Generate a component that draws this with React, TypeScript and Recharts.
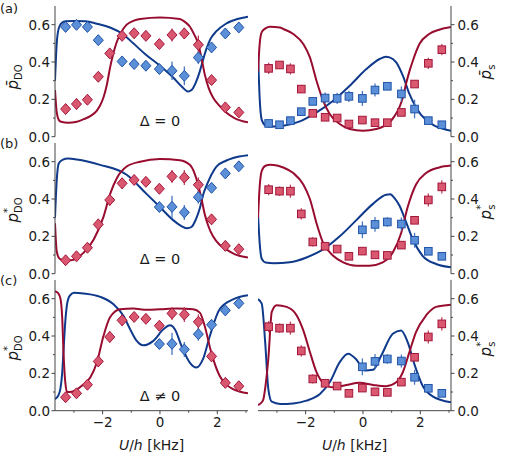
import { ComposedChart, ErrorBar, Line, Scatter, XAxis, YAxis } from 'recharts';

const FONT = '"DejaVu Sans", sans-serif';
const AXIS = '#444';
const INK = '#1a1a1a';
const RED_LINE = '#980c2f';
const BLUE_LINE = '#0f3a8c';
const RED_FILL = '#d9586f';
const RED_EDGE = '#a3173b';
const RED_ERR = '#c2415b';
const BLUE_FILL = '#5b8fd8';
const BLUE_EDGE = '#2153a6';
const BLUE_ERR = '#4a78c0';

// U/h values [kHz] of the measured points
const U = [-3.29, -2.91, -2.53, -2.15, -1.75, -1.32, -0.9, -0.49, -0.02, 0.42, 0.85, 1.34, 1.8, 2.28, 2.75];

// left column: doublon fraction
const doBarRed = [0.148, 0.175, 0.198, 0.321, 0.446, 0.54, 0.554, 0.54, 0.496, 0.545, 0.553, 0.492, 0.303, 0.157, 0.13];
const doBarRedErr = [0.012, 0.03, 0.015, 0.025, 0.02, 0.02, 0.015, 0.015, 0.02, 0.035, 0.03, 0.05, 0.02, 0.015, 0.015];
const doBarBlue = [0.588, 0.599, 0.588, 0.517, null, 0.403, 0.389, 0.38, 0.362, 0.353, 0.326, 0.424, 0.478, 0.553, 0.585];
const doBarBlueErr = [0.012, 0.012, 0.012, 0.015, 0, 0.025, 0.015, 0.015, 0.02, 0.05, 0.05, 0.035, 0.02, 0.015, 0.012];
const doStarRed = [0.072, 0.093, 0.139, 0.264, 0.395, 0.484, 0.502, 0.492, 0.455, 0.521, 0.515, 0.476, 0.291, 0.149, 0.131];
const doStarRedErr = [0.012, 0.025, 0.02, 0.03, 0.03, 0.03, 0.02, 0.02, 0.025, 0.035, 0.04, 0.04, 0.025, 0.02, 0.015];
const doStarBlue = [null, null, null, null, null, null, null, null, 0.357, 0.358, 0.328, 0.41, 0.46, 0.537, 0.575];
const doStarBlueErr = [0, 0, 0, 0, 0, 0, 0, 0, 0.02, 0.06, 0.04, 0.035, 0.02, 0.015, 0.015];

// right column: singlon fraction
const sBarRed = [0.366, 0.384, 0.363, 0.255, 0.125, 0.104, 0.1, 0.068, 0.089, 0.075, 0.075, 0.13, 0.282, 0.393, 0.466];
const sBarRedErr = [0.03, 0.02, 0.03, 0.02, 0.02, 0.02, 0.015, 0.015, 0.015, 0.015, 0.015, 0.015, 0.015, 0.03, 0.03];
const sBarBlue = [0.071, 0.064, 0.086, 0.134, 0.189, 0.207, 0.205, 0.216, 0.205, 0.25, 0.27, 0.229, 0.148, 0.086, 0.064];
const sBarBlueErr = [0.01, 0.01, 0.012, 0.015, 0.02, 0.03, 0.03, 0.03, 0.04, 0.035, 0.02, 0.04, 0.05, 0.015, 0.01];
const sStarRed = [0.45, 0.442, 0.442, 0.32, 0.17, 0.147, 0.132, 0.093, 0.121, 0.101, 0.098, 0.153, 0.286, 0.395, 0.465];
const sStarRedErr = [0.03, 0.025, 0.035, 0.03, 0.025, 0.02, 0.015, 0.015, 0.02, 0.015, 0.02, 0.02, 0.02, 0.035, 0.035];
const sStarBlue = [null, null, null, null, null, null, null, null, 0.235, 0.264, 0.277, 0.266, 0.179, 0.12, 0.093];
const sStarBlueErr = [0, 0, 0, 0, 0, 0, 0, 0, 0.045, 0.04, 0.025, 0.035, 0.04, 0.015, 0.012];

// theory curves [U/h, value]
const fitA_DO_blue = [[-3.66, 0.3], [-3.6, 0.5], [-3.53, 0.58], [-3.45, 0.605], [-3.3, 0.618], [-3.0, 0.62], [-2.6, 0.618], [-2.2, 0.605], [-1.74, 0.585], [-1.3, 0.55], [-0.93, 0.5], [-0.5, 0.44], [0, 0.38], [0.46, 0.317], [0.75, 0.27], [0.98, 0.242], [1.1, 0.25], [1.25, 0.29], [1.39, 0.35], [1.5, 0.41], [1.62, 0.47], [1.75, 0.52], [1.97, 0.565], [2.3, 0.605], [2.7, 0.63], [3.07, 0.643]];
const fitA_DO_red = [[-3.66, 0.25], [-3.6, 0.13], [-3.53, 0.09], [-3.45, 0.08], [-3.2, 0.075], [-2.9, 0.08], [-2.66, 0.094], [-2.43, 0.11], [-2.2, 0.14], [-2.08, 0.17], [-1.97, 0.21], [-1.85, 0.28], [-1.74, 0.37], [-1.62, 0.45], [-1.5, 0.51], [-1.33, 0.565], [-1.16, 0.6], [-0.93, 0.62], [-0.69, 0.63], [0, 0.638], [0.69, 0.63], [0.87, 0.615], [1.04, 0.59], [1.2, 0.545], [1.33, 0.5], [1.45, 0.42], [1.56, 0.335], [1.7, 0.26], [1.85, 0.21], [2.08, 0.165], [2.31, 0.13], [2.6, 0.1], [3.07, 0.077]];
const fitB_DO_blue = [[-3.66, 0.3], [-3.6, 0.5], [-3.53, 0.59], [-3.4, 0.61], [-3.2, 0.617], [-2.9, 0.612], [-2.09, 0.583], [-1.16, 0.53], [-0.46, 0.426], [0, 0.357], [0.46, 0.287], [0.75, 0.255], [0.95, 0.243], [1.1, 0.25], [1.25, 0.29], [1.39, 0.35], [1.5, 0.42], [1.62, 0.47], [1.97, 0.574], [2.3, 0.605], [2.55, 0.62], [3.07, 0.635]];
const fitB_DO_red = [[-3.66, 0.27], [-3.6, 0.12], [-3.5, 0.08], [-3.3, 0.07], [-3.1, 0.072], [-2.66, 0.113], [-2.31, 0.183], [-1.97, 0.304], [-1.74, 0.426], [-1.5, 0.513], [-1.16, 0.574], [-0.69, 0.6], [0, 0.614], [0.69, 0.608], [1.04, 0.583], [1.2, 0.54], [1.33, 0.478], [1.45, 0.4], [1.56, 0.32], [1.7, 0.25], [1.85, 0.2], [2.08, 0.155], [2.31, 0.13], [2.6, 0.105], [3.07, 0.087]];
const fitC_DO_blue = [[-3.66, 0.062], [-3.55, 0.08], [-3.47, 0.12], [-3.41, 0.2], [-3.36, 0.33], [-3.3, 0.48], [-3.24, 0.57], [-3.15, 0.615], [-3.0, 0.632], [-2.66, 0.628], [-2.08, 0.61], [-1.62, 0.57], [-1.27, 0.507], [-1.04, 0.436], [-0.81, 0.374], [-0.58, 0.35], [-0.23, 0.374], [0.12, 0.436], [0.35, 0.457], [0.52, 0.436], [0.75, 0.347], [1.04, 0.258], [1.27, 0.231], [1.5, 0.276], [1.74, 0.4], [2.08, 0.543], [2.55, 0.596], [3.07, 0.618]];
const fitC_DO_red = [[-3.66, 0.64], [-3.55, 0.63], [-3.47, 0.6], [-3.41, 0.5], [-3.36, 0.3], [-3.3, 0.15], [-3.24, 0.1], [-3.13, 0.1], [-2.66, 0.142], [-2.43, 0.178], [-2.2, 0.258], [-1.97, 0.4], [-1.74, 0.5], [-1.39, 0.543], [-0.93, 0.547], [-0.46, 0.54], [0, 0.543], [0.58, 0.547], [1.16, 0.543], [1.39, 0.525], [1.56, 0.454], [1.79, 0.311], [2.08, 0.187], [2.55, 0.116], [3.07, 0.094]];
const fitA_S_red = [[-3.66, 0.35], [-3.6, 0.5], [-3.53, 0.56], [-3.4, 0.58], [-3.24, 0.589], [-2.9, 0.585], [-2.78, 0.577], [-2.43, 0.55], [-2.08, 0.496], [-1.85, 0.425], [-1.62, 0.3], [-1.39, 0.193], [-1.16, 0.121], [-0.81, 0.068], [-0.46, 0.041], [0, 0.032], [0.46, 0.041], [0.93, 0.077], [1.1, 0.11], [1.27, 0.157], [1.39, 0.21], [1.5, 0.282], [1.62, 0.35], [1.74, 0.407], [1.97, 0.496], [2.31, 0.55], [2.66, 0.573], [3.07, 0.587]];
const fitA_S_blue = [[-3.66, 0.45], [-3.6, 0.2], [-3.53, 0.09], [-3.4, 0.06], [-3.24, 0.054], [-2.78, 0.059], [-2.2, 0.082], [-1.62, 0.13], [-1.04, 0.193], [-0.46, 0.273], [0.12, 0.362], [0.58, 0.416], [0.8, 0.428], [0.93, 0.425], [1.16, 0.398], [1.39, 0.327], [1.62, 0.229], [1.85, 0.157], [2.2, 0.089], [2.55, 0.055], [3.07, 0.032]];
const fitB_S_red = [[-3.66, 0.3], [-3.6, 0.47], [-3.53, 0.55], [-3.4, 0.578], [-3.24, 0.583], [-3.0, 0.58], [-2.78, 0.569], [-2.43, 0.539], [-2.08, 0.478], [-1.85, 0.4], [-1.62, 0.27], [-1.39, 0.165], [-1.04, 0.096], [-0.69, 0.061], [-0.23, 0.043], [0.23, 0.043], [0.69, 0.061], [1.04, 0.113], [1.33, 0.217], [1.56, 0.357], [1.85, 0.478], [2.2, 0.539], [2.66, 0.569], [3.07, 0.579]];
const fitB_S_blue = [[-3.66, 0.32], [-3.6, 0.16], [-3.53, 0.08], [-3.4, 0.06], [-3.1, 0.056], [-2.55, 0.061], [-1.97, 0.087], [-1.39, 0.13], [-0.81, 0.2], [-0.23, 0.287], [0.35, 0.374], [0.81, 0.423], [0.95, 0.425], [1.1, 0.405], [1.27, 0.365], [1.5, 0.278], [1.74, 0.183], [2.08, 0.096], [2.55, 0.052], [3.07, 0.035]];
const fitC_S_red = [[-3.66, 0.03], [-3.53, 0.045], [-3.47, 0.063], [-3.41, 0.12], [-3.3, 0.278], [-3.18, 0.529], [-3.01, 0.565], [-2.66, 0.556], [-2.31, 0.51], [-2.08, 0.43], [-1.85, 0.314], [-1.62, 0.206], [-1.39, 0.149], [-1.04, 0.125], [-0.58, 0.138], [-0.12, 0.149], [0.35, 0.138], [0.81, 0.131], [1.16, 0.152], [1.39, 0.206], [1.62, 0.314], [1.85, 0.421], [2.2, 0.51], [2.55, 0.556], [3.07, 0.568]];
const fitC_S_blue = [[-3.66, 0.597], [-3.53, 0.573], [-3.41, 0.367], [-3.3, 0.116], [-3.18, 0.048], [-2.89, 0.036], [-2.43, 0.039], [-1.97, 0.054], [-1.5, 0.09], [-1.16, 0.152], [-0.81, 0.26], [-0.52, 0.305], [-0.23, 0.274], [0.06, 0.215], [0.35, 0.219], [0.64, 0.296], [1.04, 0.412], [1.33, 0.43], [1.56, 0.367], [1.79, 0.251], [2.08, 0.134], [2.43, 0.077], [3.07, 0.045]];

const X_TICKS = [-3, -2, -1, 0, 1, 2, 3];
const Y_TICKS = [0, 0.1, 0.2, 0.3, 0.4, 0.5, 0.6];
const X_DOMAIN = [-3.66, 3.07];
const Y_DOMAIN = [0, 0.7];
const PW = 193;
const PH = 130.7;
const ROW_TOPS = [6, 143, 280];

const pts = (ys: (number | null)[], es: number[]) =>
  U.map((x, i) => ({ x, y: ys[i], e: es[i] })).filter((p) => p.y !== null);
const line = (c: number[][]) => c.map(([x, y]) => ({ x, y }));
const fmt = (v: number) => (v < 0 ? '\u2212' + Math.abs(v) : String(v));

function YTick({ y, payload, side }: any) {
  const v = payload.value;
  const major = Math.round(v * 10) % 2 === 0;
  const ax = side === 'left' ? 55 : 2 + PW;
  const dir = side === 'left' ? -1 : 1;
  return (
    <g>
      <line x1={ax} x2={ax + dir * (major ? 3.5 : 2)} y1={y} y2={y} stroke={AXIS} />
      {major && (
        <text x={ax + dir * (side === 'left' ? 5 : 6.5)} y={y} dy="0.36em" textAnchor={side === 'left' ? 'end' : 'start'}
          fontSize={13.5} fontFamily={FONT} fill={INK}>
          {v.toFixed(1)}
        </text>
      )}
    </g>
  );
}

function XTick({ x, payload }: any) {
  const v = payload.value;
  const major = v % 2 === 0;
  const ay = 2 + PH;
  return (
    <g>
      <line x1={x} x2={x} y1={ay} y2={ay + (major ? 3.5 : 2)} stroke={AXIS} />
      {major && (
        <text x={x} y={ay + 16} textAnchor="middle" fontSize={13.5} fontFamily={FONT} fill={INK}>
          {fmt(v)}
        </text>
      )}
    </g>
  );
}

const diamond = (fill: string, edge: string) => (p: any) => (
  <path d={`M${p.cx},${p.cy - 5.5}L${p.cx + 5},${p.cy}L${p.cx},${p.cy + 5.5}L${p.cx - 5},${p.cy}Z`} fill={fill} stroke={edge} strokeWidth={1} />
);
const square = (fill: string, edge: string) => (p: any) => (
  <rect x={p.cx - 3.8} y={p.cy - 3.8} width={7.6} height={7.6} fill={fill} stroke={edge} strokeWidth={1} />
);

function Panel({ col, row, blueFit, redFit, blue, red }: any) {
  const left = col === 'left';
  const bottom = row === 2;
  const marker = left ? diamond : square;
  return (
    <div style={{ position: 'absolute', left: left ? 0 : 256, top: ROW_TOPS[row] - 2 }}>
      <ComposedChart
        width={left ? 250 : 245}
        height={2 + PH + (bottom ? 32 : 9)}
        margin={{ top: 2, right: left ? 2 : 0, bottom: bottom ? 0 : 9, left: left ? 0 : 2 }}
      >
        {bottom ? (
          <XAxis dataKey="x" type="number" domain={X_DOMAIN} allowDataOverflow ticks={X_TICKS} interval={0} height={32}
            stroke={AXIS} tickLine={false} tickSize={4} tick={<XTick />} />
        ) : (
          <XAxis dataKey="x" type="number" domain={X_DOMAIN} allowDataOverflow ticks={X_TICKS} interval={0} height={0}
            mirror stroke={AXIS} tickSize={3} tick={false} />
        )}
        <XAxis xAxisId="top" orientation="top" type="number" domain={X_DOMAIN} allowDataOverflow ticks={X_TICKS} interval={0}
          height={0} mirror stroke={AXIS} tickSize={3} tick={false} />
        <YAxis dataKey="y" type="number" orientation={left ? 'left' : 'right'} width={left ? 55 : 50}
          domain={Y_DOMAIN} allowDataOverflow ticks={Y_TICKS} interval={0} stroke={AXIS} tickLine={false}
          tick={<YTick side={left ? 'left' : 'right'} />} />
        <YAxis yAxisId="m" type="number" orientation={left ? 'right' : 'left'} width={0} mirror
          domain={Y_DOMAIN} allowDataOverflow ticks={Y_TICKS} interval={0} stroke={AXIS} tickSize={3} tick={false} />
        <Line data={line(blueFit)} dataKey="y" type="monotone" stroke={BLUE_LINE} strokeWidth={2} dot={false} isAnimationActive={false} />
        <Line data={line(redFit)} dataKey="y" type="monotone" stroke={RED_LINE} strokeWidth={2} dot={false} isAnimationActive={false} />
        <Scatter data={blue} shape={marker(BLUE_FILL, BLUE_EDGE)} isAnimationActive={false}>
          <ErrorBar dataKey="e" direction="y" width={0} stroke={BLUE_ERR} strokeWidth={1.3} />
        </Scatter>
        <Scatter data={red} shape={marker(RED_FILL, RED_EDGE)} isAnimationActive={false}>
          <ErrorBar dataKey="e" direction="y" width={0} stroke={RED_ERR} strokeWidth={1.3} />
        </Scatter>
      </ComposedChart>
    </div>
  );
}

function RotLabel({ x, y, star, sub }: { x: number; y: number; star: boolean; sub: string }) {
  return (
    <text transform={`translate(${x},${y}) rotate(-90)`} textAnchor="middle" fontFamily={FONT} fill={INK} fontSize={15}>
      <tspan fontStyle="italic">{star ? 'p' : 'p\u0304'}</tspan>
      {star && <tspan fontSize={10} dy={-7}>*</tspan>}
      <tspan fontSize={10} dx={star ? -5 : 0} dy={star ? 11 : 4}>{sub}</tspan>
    </text>
  );
}

export default function App() {
  const deltaY = [126, 264, 401];
  return (
    <div style={{ position: 'absolute', left: 0, top: 0, width: 508, height: 458, background: '#fff' }}>
      <Panel col="left" row={0} blueFit={fitA_DO_blue} redFit={fitA_DO_red} blue={pts(doBarBlue, doBarBlueErr)} red={pts(doBarRed, doBarRedErr)} />
      <Panel col="right" row={0} blueFit={fitA_S_blue} redFit={fitA_S_red} blue={pts(sBarBlue, sBarBlueErr)} red={pts(sBarRed, sBarRedErr)} />
      <Panel col="left" row={1} blueFit={fitB_DO_blue} redFit={fitB_DO_red} blue={pts(doStarBlue, doStarBlueErr)} red={pts(doStarRed, doStarRedErr)} />
      <Panel col="right" row={1} blueFit={fitB_S_blue} redFit={fitB_S_red} blue={pts(sStarBlue, sStarBlueErr)} red={pts(sStarRed, sStarRedErr)} />
      <Panel col="left" row={2} blueFit={fitC_DO_blue} redFit={fitC_DO_red} blue={pts(doStarBlue, doStarBlueErr)} red={pts(doStarRed, doStarRedErr)} />
      <Panel col="right" row={2} blueFit={fitC_S_blue} redFit={fitC_S_red} blue={pts(sStarBlue, sStarBlueErr)} red={pts(sStarRed, sStarRedErr)} />
      <svg width={508} height={458} style={{ position: 'absolute', left: 0, top: 0, pointerEvents: 'none' }}>
        <text x={0} y={13} fontSize={13} fontFamily={FONT} fill={INK}>(a)</text>
        <text x={0} y={148} fontSize={13} fontFamily={FONT} fill={INK}>(b)</text>
        <text x={0} y={285} fontSize={13} fontFamily={FONT} fill={INK}>(c)</text>
        <RotLabel x={18} y={77} star={false} sub="DO" />
        <RotLabel x={18} y={210} star sub="DO" />
        <RotLabel x={18} y={348} star sub="DO" />
        <RotLabel x={491} y={72} star={false} sub="s" />
        <RotLabel x={491} y={212} star sub="s" />
        <RotLabel x={491} y={349} star sub="s" />
        {deltaY.map((y, i) => (
          <text key={i} x={160} y={y} textAnchor="middle" fontSize={14.5} fontFamily={FONT} fill={INK}>
            {i === 2 ? '\u0394 \u2260 0' : '\u0394 = 0'}
          </text>
        ))}
        {[151.5, 354.5].map((cx) => (
          <text key={cx} x={cx} y={450} textAnchor="middle" fontSize={14} fontFamily={FONT} fill={INK}>
            <tspan fontStyle="italic">U</tspan>/<tspan fontStyle="italic">h</tspan> [kHz]
          </text>
        ))}
      </svg>
    </div>
  );
}
